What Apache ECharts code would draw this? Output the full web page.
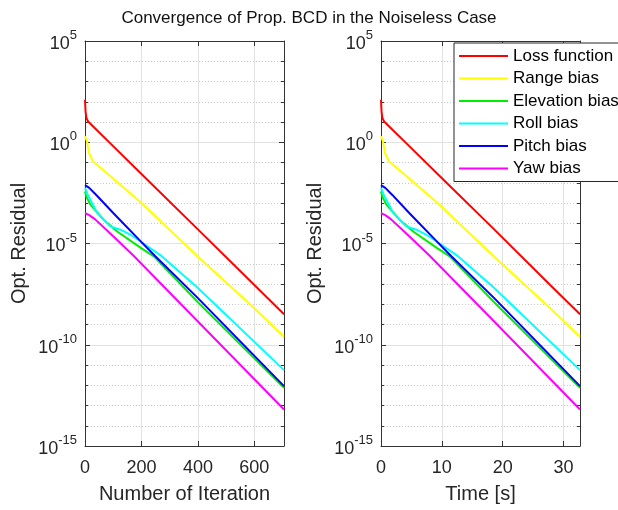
<!DOCTYPE html>
<html>
<head>
<meta charset="utf-8">
<script src="https://cdn.jsdelivr.net/npm/echarts@6/dist/echarts.min.js"></script>
<style>
  html, body { margin: 0; padding: 0; background: #ffffff; }
  #chart { width: 618px; height: 510px; }
</style>
</head>
<body>
<div id="chart"></div>
<script>
// Residual histories of the block coordinate descent run (noiseless case).
const seriesNames = ['Loss function', 'Range bias', 'Elevation bias', 'Roll bias', 'Pitch bias', 'Yaw bias'];
const seriesColors = ['#ff0000', '#ffff00', '#00ee00', '#00ffff', '#0000ff', '#ff00ff'];

const lossIter = [0, 2, 5, 11, 28, 88, 200, 400, 600, 705];
const lossTime = [0, 0.09, 0.23, 0.51, 1.3, 4.1, 9.3, 18.6, 27.8, 32.7];
const lossVal  = [1.26e2, 3.2e1, 1.6e1, 1.05e1, 6.2, 0.93, 2.7e-2, 5.0e-5, 8.9e-8, 3.2e-9];

const rangeIter = [0, 3, 7, 14, 28, 88, 200, 400, 600, 705];
const rangeTime = [0, 0.14, 0.32, 0.65, 1.3, 4.1, 9.3, 18.6, 27.8, 32.7];
const rangeVal  = [2.0, 1.6, 1.12, 0.30, 0.115, 2.24e-2, 1.0e-3, 2.2e-6, 6.3e-9, 2.5e-10];

const elevIter = [0, 5, 19, 66, 114, 199, 244, 400, 705];
const elevTime = [0, 0.23, 0.88, 3.06, 5.29, 9.23, 11.3, 18.6, 32.7];
const elevVal  = [3.7e-3, 2.0e-3, 8.3e-4, 1.5e-4, 3.9e-5, 5.9e-6, 2.3e-6, 1.26e-8, 7.4e-13];

const rollIter = [0, 10, 43, 90, 126, 161, 197, 273, 400, 705];
const rollTime = [0, 0.46, 2.0, 4.18, 5.85, 7.47, 9.14, 12.7, 18.6, 32.7];
const rollVal  = [5.5e-3, 2.5e-3, 3.2e-4, 6.9e-5, 4.8e-5, 2.7e-5, 1.26e-5, 2.3e-6, 6.3e-8, 5.6e-12];

const pitchIter = [0, 15, 40, 100, 200, 250, 400, 705];
const pitchTime = [0, 0.70, 1.86, 4.64, 9.28, 11.6, 18.6, 32.7];
const pitchVal  = [7.6e-3, 5.6e-3, 2.5e-3, 3.2e-4, 1.17e-5, 2.3e-6, 2.0e-8, 9.1e-13];

const yawIter = [0, 15, 35, 66, 114, 173, 400, 705];
const yawTime = [0, 0.70, 1.62, 3.06, 5.29, 8.03, 18.6, 32.7];
const yawVal  = [3.2e-4, 2.5e-4, 1.6e-4, 6.3e-5, 1.5e-5, 2.4e-6, 1.4e-9, 6.3e-14];

// Exponents shown on the residual axis (decades of 10).
const decadeMin = -15;
const decadeMax = 5;
const decadeStep = 5;

const iterMax = 705;
const iterStep = 200;
const timeMax = 32.7;
const timeStep = 10;

const histories = [
  [lossIter, lossTime, lossVal],
  [rangeIter, rangeTime, rangeVal],
  [elevIter, elevTime, elevVal],
  [rollIter, rollTime, rollVal],
  [pitchIter, pitchTime, pitchVal],
  [yawIter, yawTime, yawVal]
];

const FONT = '"Liberation Sans", Arial, Helvetica, sans-serif';
const AXIS_COLOR = '#333333';
const TEXT_COLOR = '#262626';

const zip = (xs, ys) => xs.map((x, i) => [x, ys[i]]);

function bottomAxis(gridIndex, max, step, name) {
  return {
    type: 'value', gridIndex, position: 'bottom', min: 0, max, interval: step,
    name, nameLocation: 'middle', nameGap: 38,
    nameTextStyle: { fontSize: 20, color: TEXT_COLOR, fontFamily: FONT },
    axisLine: { show: true, onZero: false, lineStyle: { color: AXIS_COLOR, width: 1 } },
    axisTick: { show: true, inside: true, length: 5, lineStyle: { color: AXIS_COLOR } },
    axisLabel: { fontSize: 18, color: TEXT_COLOR, fontFamily: FONT, margin: 13, showMaxLabel: false },
    splitLine: { show: true, lineStyle: { color: '#e2e2e2', width: 1 } }
  };
}

function topAxis(gridIndex, max, step) {
  return {
    type: 'value', gridIndex, position: 'top', min: 0, max, interval: step,
    axisLine: { show: true, onZero: false, lineStyle: { color: AXIS_COLOR, width: 1 } },
    axisTick: { show: true, inside: true, length: 5, lineStyle: { color: AXIS_COLOR } },
    axisLabel: { show: false },
    splitLine: { show: false }
  };
}

// Hidden logarithmic axis that carries the residual data.
function logAxis(gridIndex) {
  return {
    type: 'log', logBase: 10, gridIndex, position: 'left',
    min: Math.pow(10, decadeMin), max: Math.pow(10, decadeMax),
    show: false
  };
}

// Decade axis drawing labels, ticks and the grid of the residual scale.
function decadeAxis(gridIndex, side) {
  const left = side === 'left';
  return {
    type: 'value', gridIndex, position: side, min: decadeMin, max: decadeMax, interval: decadeStep,
    name: left ? 'Opt. Residual' : '', nameLocation: 'middle', nameGap: 56,
    nameTextStyle: { fontSize: 20, color: TEXT_COLOR, fontFamily: FONT },
    axisLine: { show: true, onZero: false, lineStyle: { color: AXIS_COLOR, width: 1 } },
    axisTick: { show: true, inside: true, length: 5, lineStyle: { color: AXIS_COLOR } },
    minorTick: { show: true, splitNumber: 5, length: 3, lineStyle: { color: AXIS_COLOR } },
    axisLabel: {
      show: left, margin: 8,
      formatter: v => '{b|10}{s|' + v + '}',
      rich: {
        b: { fontSize: 18, color: TEXT_COLOR, fontFamily: FONT, lineHeight: 24, verticalAlign: 'bottom' },
        s: { fontSize: 13, color: TEXT_COLOR, fontFamily: FONT, lineHeight: 11, verticalAlign: 'top' }
      }
    },
    splitLine: { show: left, lineStyle: { color: '#e2e2e2', width: 1 } },
    minorSplitLine: { show: left, lineStyle: { color: '#c9c9c9', width: 1, type: [1, 2] } }
  };
}

const series = [];
histories.forEach((h, i) => {
  const common = {
    name: seriesNames[i], type: 'line', symbol: 'none', smooth: false,
    lineStyle: { width: 2, color: seriesColors[i] }, itemStyle: { color: seriesColors[i] },
    z: 3 + i
  };
  series.push(Object.assign({}, common, { xAxisIndex: 0, yAxisIndex: 0, data: zip(h[0], h[2]) }));
  series.push(Object.assign({}, common, { xAxisIndex: 2, yAxisIndex: 3, data: zip(h[1], h[2]) }));
});

const chart = echarts.init(document.getElementById('chart'), null, { renderer: 'canvas' });
chart.setOption({
  animation: false,
  backgroundColor: '#ffffff',
  textStyle: { fontFamily: FONT },
  title: {
    text: 'Convergence of Prop. BCD in the Noiseless Case',
    left: 'center', top: 5,
    textStyle: { fontSize: 17, fontWeight: 'normal', color: '#111111', fontFamily: FONT }
  },
  legend: {
    data: seriesNames, orient: 'vertical', left: 454, top: 43,
    padding: [4, 5, 4, 5], itemGap: 4.5, itemWidth: 49, itemHeight: 2, icon: 'rect',
    backgroundColor: '#ffffff', borderColor: '#262626', borderWidth: 1, borderRadius: 0,
    textStyle: { fontSize: 17, color: '#000000', fontFamily: FONT, lineHeight: 18 },
    z: 20
  },
  grid: [
    { left: 85, top: 41, width: 199, height: 405, containLabel: false },
    { left: 381, top: 41, width: 199, height: 405, containLabel: false }
  ],
  xAxis: [
    bottomAxis(0, iterMax, iterStep, 'Number of Iteration'),
    topAxis(0, iterMax, iterStep),
    bottomAxis(1, timeMax, timeStep, 'Time [s]'),
    topAxis(1, timeMax, timeStep)
  ],
  yAxis: [
    logAxis(0), decadeAxis(0, 'left'), decadeAxis(0, 'right'),
    logAxis(1), decadeAxis(1, 'left'), decadeAxis(1, 'right')
  ],
  series
});
</script>
</body>
</html>
